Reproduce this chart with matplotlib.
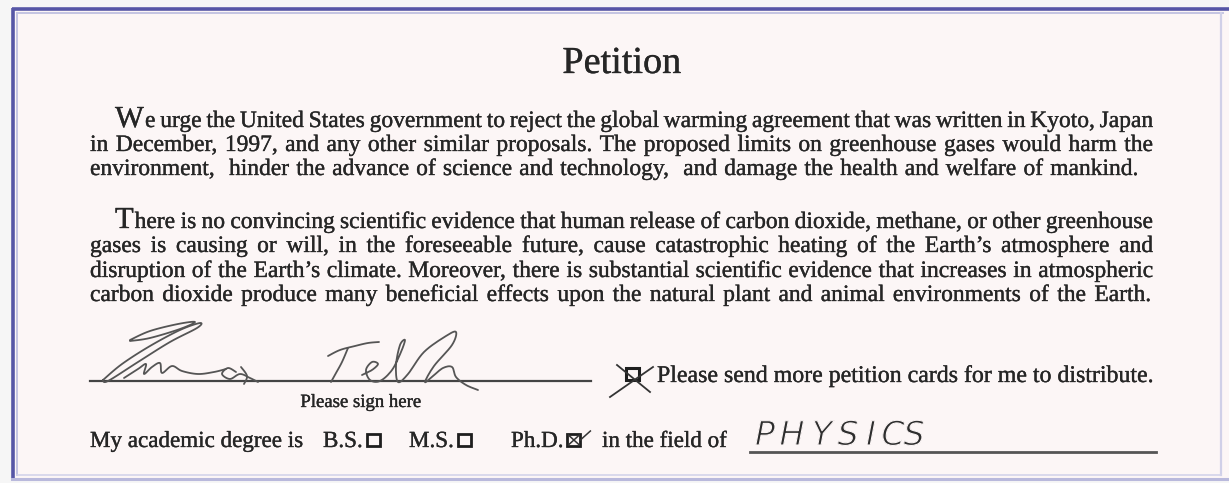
import matplotlib
matplotlib.use("Agg")
import matplotlib.pyplot as plt
import matplotlib.patheffects as pe
from matplotlib.patches import Rectangle
import numpy as np

W, H = 1229, 483
SERIF = ['Liberation Serif', 'DejaVu Serif']
INK = '#262626'
CARD = '#fcf6f6'

title = "Petition"
para1 = [
    "We urge the United States government to reject the global warming agreement that was written in Kyoto, Japan",
    "in December, 1997, and any other similar proposals. The proposed limits on greenhouse gases would harm the",
    "environment,  hinder the advance of science and technology,  and damage the health and welfare of mankind.",
]
para2 = [
    "There is no convincing scientific evidence that human release of carbon dioxide, methane, or other greenhouse",
    "gases is causing or will, in the foreseeable future, cause catastrophic heating of the Earth\u2019s atmosphere and",
    "disruption of the Earth\u2019s climate. Moreover, there is substantial scientific evidence that increases in atmospheric",
    "carbon dioxide produce many beneficial effects upon the natural plant and animal environments of the Earth.",
]
sign_label = "Please sign here"
send_label = "Please send more petition cards for me to distribute."
degree_intro = "My academic degree is"
degrees = ["B.S.", "M.S.", "Ph.D."]
degree_checked = [False, False, True]
field_label = "in the field of"
field_value = "PHYSICS"

fig = plt.figure(figsize=(W / 100, H / 100), dpi=100)
fig.patch.set_facecolor('#f6f6f6')
ax = fig.add_axes([0, 0, 1, 1])
ax.set_xlim(0, W)
ax.set_ylim(H, 0)
ax.axis('off')
r = fig.canvas.get_renderer()

# scanned print looks a little heavier than the clean font
heavy = [pe.withStroke(linewidth=0.25, foreground=INK)]


def width(s, size):
    t = ax.text(0, 0, s, fontsize=size, family=SERIF)
    w = t.get_window_extent(r).width
    t.remove()
    return w


def size_for(s, w):
    # font size that makes s exactly w pixels wide
    return 20 * w / width(s, 20)


def put(x, y, s, size, **kw):
    return ax.text(x, y, s, fontsize=size, family=SERIF, color=INK, va='baseline',
                   path_effects=heavy, **kw)


def smooth(pts, n=8):
    # catmull-rom through the hand-drawn points
    p = np.array(pts, dtype=float)
    p = np.vstack([p[0], p, p[-1]])
    out = []
    t = np.linspace(0, 1, n, endpoint=False)[:, None]
    for i in range(1, len(p) - 2):
        p0, p1, p2, p3 = p[i - 1], p[i], p[i + 1], p[i + 2]
        out.append(0.5 * (2 * p1 + (-p0 + p2) * t + (2 * p0 - 5 * p1 + 4 * p2 - p3) * t ** 2
                          + (-p0 + 3 * p1 - 3 * p2 + p3) * t ** 3))
    out.append(p[-2][None])
    return np.vstack(out)


# card and border
ax.add_patch(Rectangle((12, 8), W - 12, 470, fc=CARD, ec='none'))
ax.plot([12.5, 12.5], [8, 479], color='#5656a6', lw=2.6, solid_capstyle='butt')
ax.plot([12, W], [8.5, 8.5], color='#5656a6', lw=2.6, solid_capstyle='butt')
ax.plot([12, W], [478.5, 478.5], color='#b9b9dc', lw=2.2)
ax.plot([17, 17], [13, 475], color='#c4c4e2', lw=1.4)
ax.plot([17, 1223], [13, 13], color='#c4c4e2', lw=1.4)
ax.plot([1221, 1221], [13, 475], color='#d0d0e8', lw=1.6)
ax.plot([17, 1221], [475, 475], color='#d4d4ea', lw=1.2)

# title
put(622, 73, title, 27.5, ha='center')

# justified paragraphs
left = 90
indent = 115
p1_ends = [1153, 1153, 1138]
p2_ends = [1153, 1153, 1153, 1151]
p1_base = [127, 151, 175]
p2_base = [228, 252, 277, 301]

lines = [(s, indent if i == 0 else left, e, b, i == 0) for i, (s, e, b) in enumerate(zip(para1, p1_ends, p1_base))]
lines += [(s, indent if i == 0 else left, e, b, i == 0) for i, (s, e, b) in enumerate(zip(para2, p2_ends, p2_base))]

s0 = 16.0
big = 1.3
fit = 18.0
for s, x0, x1, b, first in lines:
    words = s.split(' ')
    nat = sum(width(w, s0) for w in words if w)
    if first:
        nat += width(words[0][0], s0 * big) - width(words[0][0], s0)
    need = nat / s0 + (len(words) - 1) * 0.21 * 100 / 72
    fit = min(fit, (x1 - x0) / need)
size = fit

for s, x0, x1, b, first in lines:
    words = s.split(' ')
    ws = []
    for k, w in enumerate(words):
        if k == 0 and first:
            ws.append(width(w[0], size * big) + width(w[1:], size) + 1)
        else:
            ws.append(width(w, size) if w else 0)
    gap = (x1 - x0 - sum(ws)) / (len(words) - 1)
    x = x0
    for k, w in enumerate(words):
        if k == 0 and first:
            put(x, b, w[0], size * big)
            put(x + width(w[0], size * big) + 1, b, w[1:], size)
        elif w:
            put(x, b, w, size)
        x += ws[k] + gap

# signature line and label
ax.plot([90, 591], [381, 381], color='#444444', lw=1.6)
put(361, 407, sign_label, size_for(sign_label, 121), ha='center')

# signature strokes
sig = [
    [(103, 380), (122, 364), (150, 346), (180, 330), (200, 323), (197, 328), (170, 342), (138, 362), (108, 381), (103, 380)],
    [(130, 340), (150, 331), (178, 324), (195, 322), (180, 329), (150, 338), (130, 341)],
    [(124, 378), (138, 369), (146, 364), (144, 374), (152, 367), (160, 363), (162, 373), (172, 366), (182, 371), (198, 374), (214, 372), (226, 369)],
    [(236, 372), (228, 368), (222, 374), (230, 379), (240, 374), (250, 378), (258, 382)],
    [(241, 367), (247, 376), (244, 384)],
    [(328, 356), (340, 350), (355, 346), (368, 343), (379, 342)],
    [(348, 348), (342, 362), (336, 373), (331, 382)],
    [(362, 375), (372, 370), (378, 364), (372, 362), (366, 370), (370, 380), (380, 381), (392, 370), (401, 352),
     (405, 340), (400, 345), (396, 365), (398, 382), (408, 374), (424, 352), (446, 336), (456, 332), (452, 345),
     (434, 366), (425, 382), (433, 376), (443, 368), (452, 367), (456, 377), (466, 385), (478, 390)],
]
for st in sig:
    p = smooth(st)
    ax.plot(p[:, 0], p[:, 1], color='#555555', lw=1.3, solid_joinstyle='round', solid_capstyle='round')

# "send more" checkbox
ax.add_patch(Rectangle((626, 368), 13, 12, fill=False, ec='#1e1e1e', lw=2.2))
ax.plot([617, 650], [365, 392], color='#333333', lw=1.3)
ax.plot([610, 653], [397, 367], color='#333333', lw=1.3)
put(657, 382, send_label, size_for(send_label, 497))

# degree row
row_y = 447
row_size = size_for(field_label, 125)
put(90, row_y, degree_intro, row_size)
deg_x = [323, 409, 511]
for d, x, chk in zip(degrees, deg_x, degree_checked):
    put(x, row_y, d, row_size)
    bx = x + width(d, row_size) + 4
    ax.add_patch(Rectangle((bx, 434), 13, 12, fill=False, ec='#1e1e1e', lw=2.0))
    if chk:
        ax.plot([bx + 1, bx + 12], [435, 445], color='#333333', lw=1.1)
        ax.plot([bx + 1, bx + 12], [445, 435], color='#333333', lw=1.1)
        ax.plot([bx + 13, bx + 23], [440, 431], color='#333333', lw=1.1)
put(602, row_y, field_label, row_size)

# field line and handwritten value (slightly thinned pen strokes)
ax.plot([750, 1156], [452, 452], color='#555555', lw=2.0)
thin = [pe.Normal(), pe.Stroke(linewidth=0.8, foreground=CARD)]
hx = [765, 792, 822, 848, 871, 893, 914]
for ch, x in zip(field_value, hx):
    ax.text(x, 445, ch, fontsize=24, family='DejaVu Sans', style='italic', ha='center',
            color='#2e2e2e', va='baseline', path_effects=thin)

fig.savefig('out.png', dpi=100, facecolor=fig.get_facecolor())
